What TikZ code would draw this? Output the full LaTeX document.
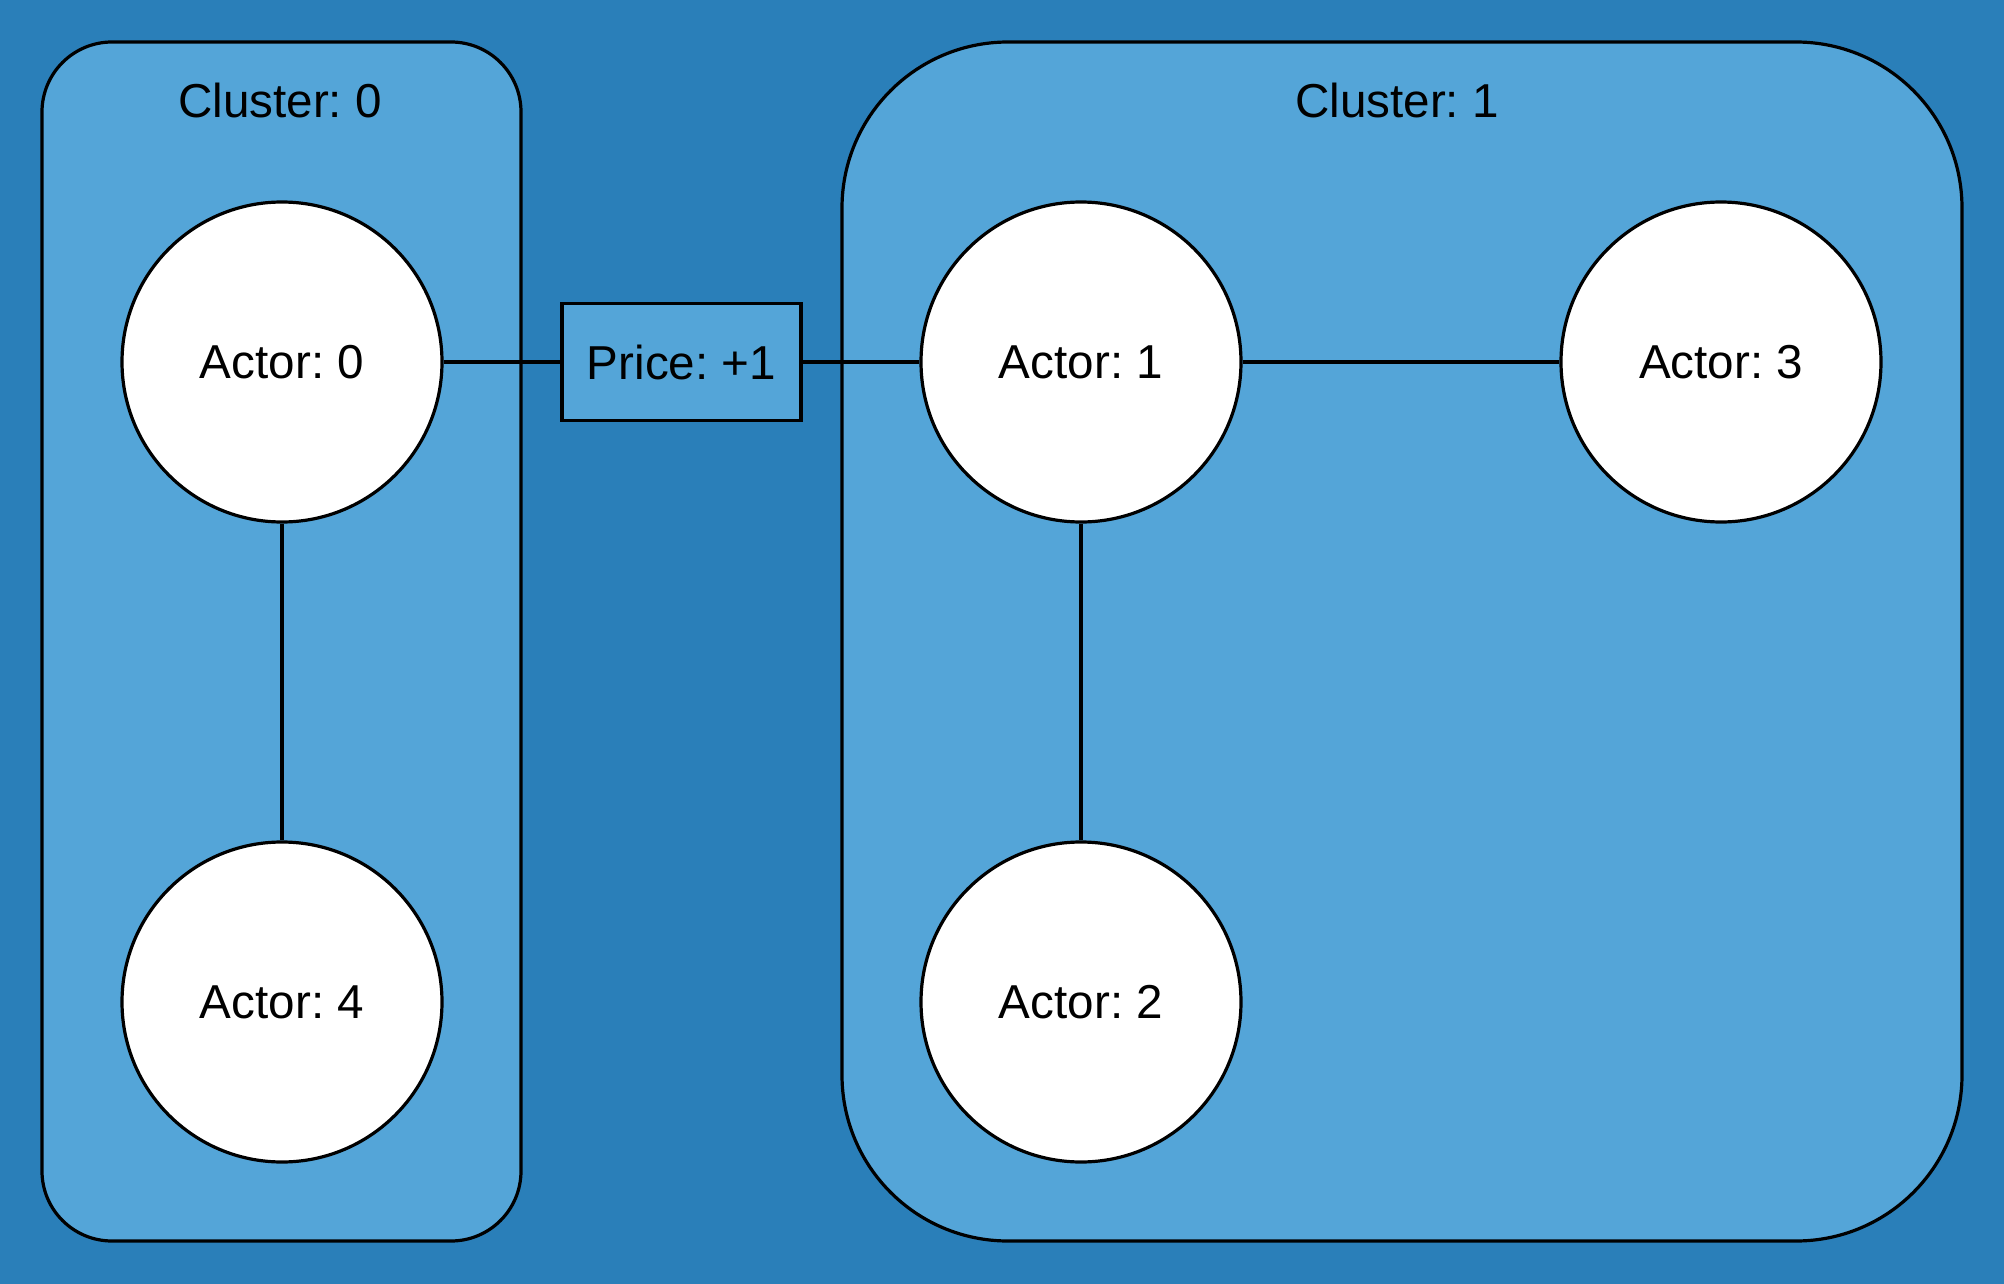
\documentclass[tikz,border=0pt]{standalone}
\usepackage{fontspec}
\setmainfont{Liberation Sans}
\definecolor{bgblue}{RGB}{42,127,185}
\definecolor{clblue}{RGB}{84,165,216}
\frenchspacing
\begin{document}
\begin{tikzpicture}[x=0.5pt,y=-0.5pt,
  every node/.style={font=\fontsize{23.8}{28}\selectfont, text=black},
  cluster/.style={draw=black, line width=1.6pt, fill=clblue, rectangle, inner sep=0pt},
  actor/.style={draw=black, line width=1.6pt, fill=white, circle, minimum size=160pt, inner sep=0pt},
  pricebox/.style={draw=black, line width=1.6pt, fill=clblue, rectangle, minimum width=119.5pt, minimum height=58.5pt, inner sep=0pt},
  link/.style={draw=black, line width=1.6pt}]
\fill[bgblue] (0,0) rectangle (2004,1284);
\useasboundingbox (0,0) rectangle (2004,1284);
\node[cluster, rounded corners=35pt, minimum width=239.5pt, minimum height=599.5pt] (c0) at (281.5,641.5) {};
\node[cluster, rounded corners=83pt, minimum width=560pt, minimum height=599.5pt] (c1) at (1402,641.5) {};
\node (c0label) at (280,100) {Cluster: 0};
\node (c1label) at (1397,100) {Cluster: 1};
\node[actor] (a0) at (282,362) {Actor: 0};
\node[actor] (a4) at (282,1002) {Actor: 4};
\node[actor] (a1) at (1081,362) {Actor: 1};
\node[actor] (a3) at (1721,362) {Actor: 3};
\node[actor] (a2) at (1081,1002) {Actor: 2};
\node[pricebox] (price) at (681.5,362) {Price: +1};
\draw[link] (a0) -- (price);
\draw[link] (price) -- (a1);
\draw[link] (a1) -- (a3);
\draw[link] (a0) -- (a4);
\draw[link] (a1) -- (a2);
\end{tikzpicture}
\end{document}
